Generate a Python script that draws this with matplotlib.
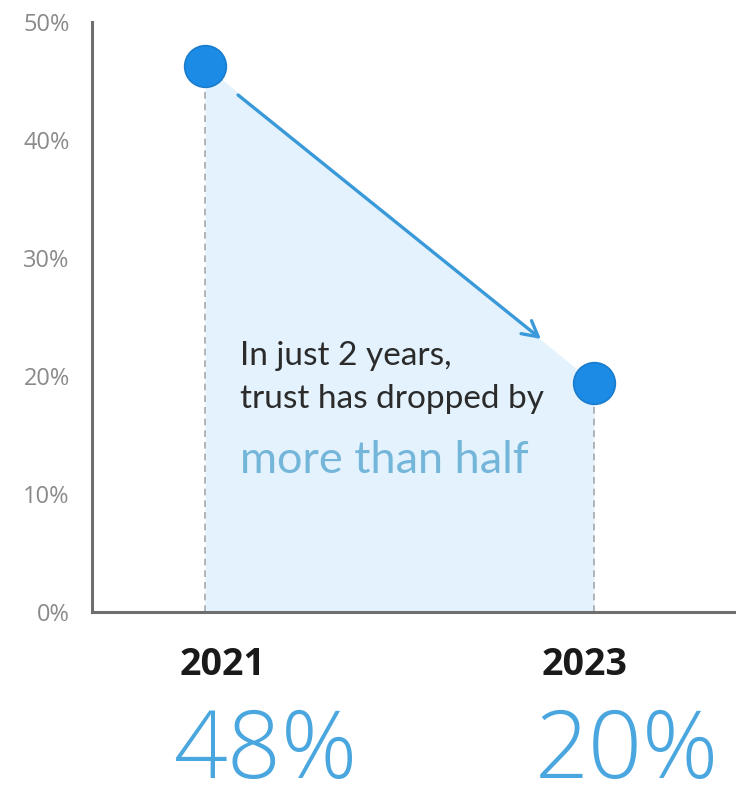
import matplotlib
matplotlib.use("Agg")
import matplotlib.pyplot as plt

# data
years = [2021, 2023]
trust = [46.3, 19.4]          # where the dots sit on the axis
big_labels = ["48%", "20%"]   # the printed headline numbers
yticks = [0, 10, 20, 30, 40, 50]
ytick_labels = ["0%", "10%", "20%", "30%", "40%", "50%"]

fig = plt.figure(figsize=(7.36, 7.85), dpi=100)
ax = fig.add_axes([0.125, 0.2204, 0.875, 0.7516])

ax.set_xlim(2020.419, 2023.730)
ax.set_ylim(0, 50)

# shaded area under the line
ax.fill_between(years, trust, 0, color="#e3f2fc", zorder=1, linewidth=0)

# dashed drop lines
for x, y in zip(years, trust):
    ax.plot([x, x], [0, y], ls=(0, (4, 3)), color="#a8a8a8", lw=1.2, zorder=2)

# dots
ax.plot(years, trust, ls="none", marker="o", markersize=30,
        markerfacecolor="#1b8be6", markeredgecolor="#1a7ccc",
        markeredgewidth=1.2, zorder=4, clip_on=False)

# arrow between the dots
ax.annotate("", xy=(2022.727, 23.14), xytext=(2021.170, 43.81),
            arrowprops=dict(arrowstyle="->,head_length=1.1,head_width=0.6",
                            color="#3a9ad9", lw=2.4, shrinkA=0, shrinkB=0),
            zorder=3)

# callout text
ax.text(2021.18, 20.93, "In just 2 years,", fontsize=24, family="Lato",
        color="#2b2b2b", va="baseline", zorder=5)
ax.text(2021.18, 17.29, "trust has dropped by", fontsize=24, family="Lato",
        color="#2b2b2b", va="baseline", zorder=5)
ax.text(2021.18, 11.78, "more than half", fontsize=32.5, family="Lato",
        color="#74b5da", va="baseline", zorder=5)

# axes styling
for s in ["top", "right"]:
    ax.spines[s].set_visible(False)
ax.spines["left"].set_color("#6e6e6e")
ax.spines["bottom"].set_color("#6e6e6e")
ax.spines["left"].set_linewidth(2.2)
ax.spines["bottom"].set_linewidth(2.2)

ax.set_yticks(yticks)
ax.set_yticklabels(ytick_labels, fontsize=17, family="Open Sans", color="#8a8a8a")
ax.tick_params(axis="y", length=0, pad=16)

ax.set_xticks(years)
ax.set_xticklabels(["", ""])
ax.tick_params(axis="x", length=0)

# year labels and headline percentages under the axis
x_shift = [-25, -52]
for x, dx, lab in zip(years, x_shift, big_labels):
    ax.annotate(str(x), xy=(x, 0), xytext=(dx, -63), textcoords="offset pixels",
                ha="left", va="baseline", fontsize=27, family="Open Sans",
                fontweight="bold", color="#1a1a1a", annotation_clip=False)
    ax.annotate(lab, xy=(x, 0), xytext=(dx - 7, -166), textcoords="offset pixels",
                ha="left", va="baseline", fontsize=68, family="Open Sans",
                fontweight="light", color="#4aa6df", annotation_clip=False)

fig.savefig("out.png", dpi=100)
